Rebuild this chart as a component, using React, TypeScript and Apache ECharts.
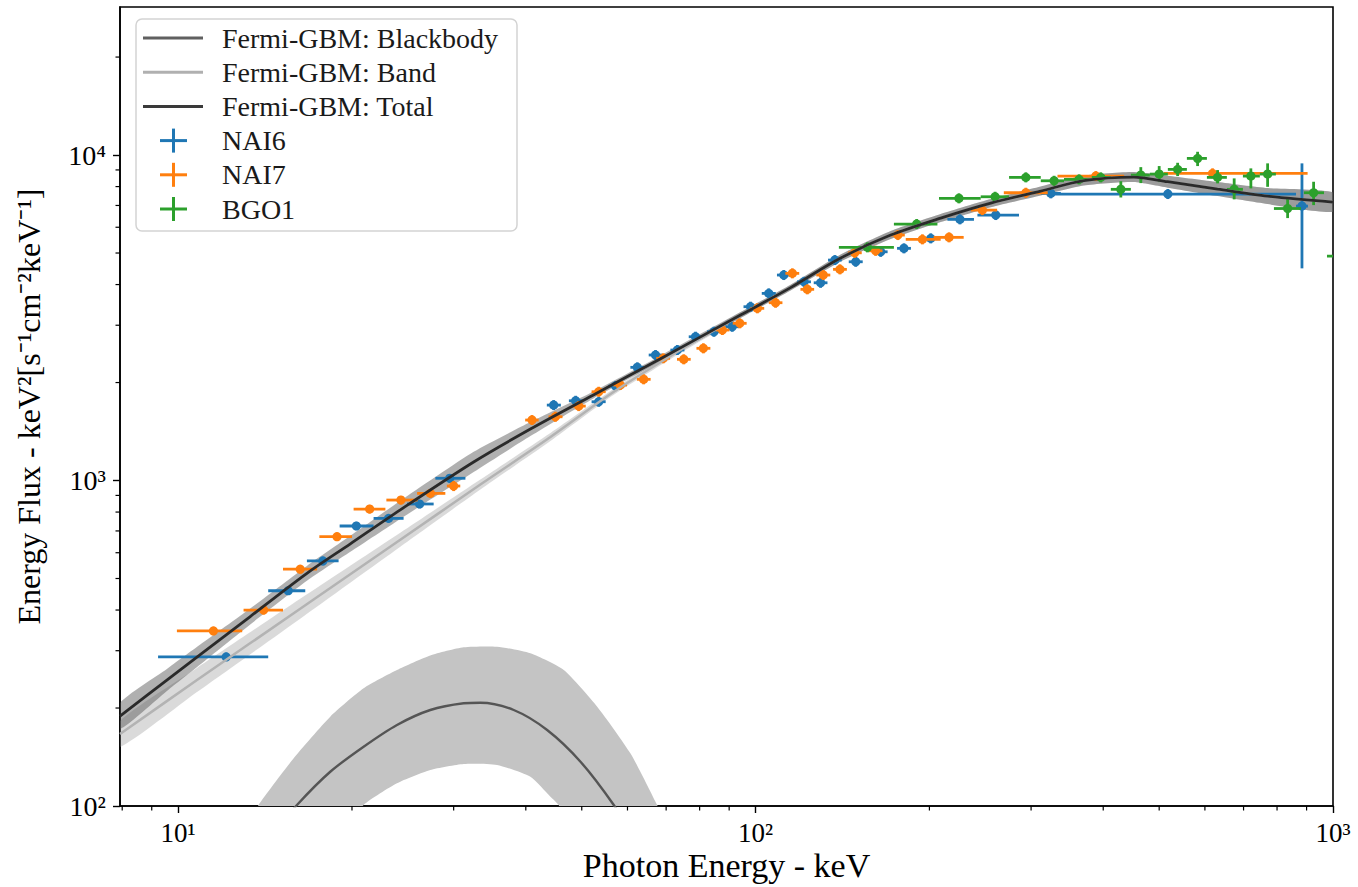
import React, { useEffect, useRef } from "react";
import * as echarts from "echarts";

const FONT = "Liberation Serif";

const X_MIN = 7.93;
const X_MAX = 1000;
const Y_MIN = 100;
const Y_MAX = 28500;

const xMajorTicks = [10, 100, 1000];
const xTickLabels = ["10\u00b9", "10\u00b2", "10\u00b3"];
const yMajorTicks = [100, 1000, 10000];
const yTickLabels = ["10\u00b2", "10\u00b3", "10\u2074"];
const xMinorTicks = [8, 9, 20, 30, 40, 50, 60, 70, 80, 90, 200, 300, 400, 500, 600, 700, 800, 900];
const yMinorTicks = [200, 300, 400, 500, 600, 700, 800, 900, 2000, 3000, 4000, 5000, 6000, 7000, 8000, 9000, 20000];

// Fermi-GBM: Total
const totalCurve = [[7.93,189.0],[9.56,243.8],[10.92,291.9],[13.33,382.1],[16.71,518.7],[19.87,639.0],[24.25,812.6],[32.49,1140],[40.74,1439],[52.38,1832],[68.45,2368],[94.19,3224],[115.0,3915],[140.4,4826],[171.4,5677],[209.2,6402],[255.5,7118],[311.8,7752],[370.2,8347],[451.9,8557],[517.0,8280],[631.1,7862],[770.5,7480],[1000,7170]];
const totalUpper = [[7.93,207.1],[9.56,263.5],[10.92,313.2],[13.33,404.3],[16.71,546.7],[19.87,676.1],[24.25,866.2],[32.49,1225],[40.74,1512],[52.38,1878],[68.45,2418],[94.19,3292],[115.0,3997],[140.4,4947],[171.4,5842],[209.2,6588],[255.5,7324],[311.8,8000],[370.2,8647],[451.9,8865],[517.0,8635],[631.1,8263],[770.5,7914],[1000,7672]];
const totalLower = [[7.93,172.4],[9.56,225.5],[10.92,272.0],[13.33,361.2],[16.71,492.1],[19.87,604.0],[24.25,762.3],[32.49,1062],[40.74,1369],[52.38,1787],[68.45,2319],[94.19,3158],[115.0,3834],[140.4,4708],[171.4,5517],[209.2,6222],[255.5,6917],[311.8,7512],[370.2,8057],[451.9,8260],[517.0,7938],[631.1,7480],[770.5,7070],[1000,6701]];

// Fermi-GBM: Band
const bandCurve = [[7.93,166.4],[10.78,243.8],[16.27,403.7],[24.25,657.8],[33.37,971.9],[44.13,1360],[56.74,1870],[74.13,2517],[94.19,3224],[115.0,3915],[140.4,4826],[171.4,5677],[209.2,6402],[255.5,7118],[311.8,7752],[370.2,8347],[451.9,8557],[517.0,8280],[631.1,7862],[770.5,7480],[1000,7170]];
const bandUpper = [[7.93,182.4],[10.78,265.5],[16.27,433.2],[24.25,691.3],[33.37,1007],[44.13,1399],[56.74,1909],[74.13,2570],[94.19,3292],[115.0,3997],[140.4,4947],[171.4,5842],[209.2,6588],[255.5,7324],[311.8,8000],[370.2,8647],[451.9,8865],[517.0,8635],[631.1,8263],[770.5,7914],[1000,7672]];
const bandLower = [[7.93,151.8],[10.78,223.9],[16.27,376.2],[24.25,625.9],[33.37,938.1],[44.13,1322],[56.74,1831],[74.13,2465],[94.19,3158],[115.0,3834],[140.4,4708],[171.4,5517],[209.2,6222],[255.5,6917],[311.8,7512],[370.2,8057],[451.9,8260],[517.0,7938],[631.1,7480],[770.5,7070],[1000,6701]];

// Fermi-GBM: Blackbody
const bbCurve = [[15.03,86.8],[16.06,100.7],[18.34,127.4],[20.95,152.1],[23.93,177.4],[27.33,197.2],[31.22,206.8],[33.37,207.7],[38.12,197.2],[43.55,171.2],[49.75,136.8],[56.81,100.7],[59.5,86.9]];
const bbUpper = [[13.06,84.4],[13.78,100.7],[15.85,140.1],[18.34,188.1],[20.95,229.9],[23.93,261.6],[27.33,290.0],[31.22,307.3],[35.66,308.6],[40.74,294.5],[46.54,261.6],[53.18,201.9],[60.7,145.2],[67.53,100.7],[70.7,84.4]];
const bbLower = [[19.47,84.4],[20.95,100.7],[23.93,117.4],[27.33,129.0],[31.22,134.6],[35.66,133.7],[40.74,123.0],[44.13,106.8],[45.6,100.7],[46.85,90.6]];

// data points: [energy, energyLow, energyHigh, flux, fluxLow, fluxHigh]
const nai6 = [
  [12.11,9.23,14.32,287,279,296],[15.51,14.32,16.60,458.5,445,472],[17.81,16.71,18.96,566,549,583],
  [20.35,19.04,21.80,725,704,747],[23.14,21.80,24.57,765,743,788],[26.19,24.91,27.70,847,822,872],
  [29.53,27.89,31.44,1016,986,1046],[44.7,43.5,46.0,1705,1646,1766],[48.8,47.5,50.2,1758,1697,1821],
  [53.5,52.0,55.0,1746,1685,1809],[57.2,55.6,58.8,1951,1883,2021],[62.4,60.7,64.1,2227,2150,2307],
  [67.1,65.3,69.0,2430,2346,2517],[73.2,71.2,75.3,2517,2430,2608],[78.7,76.6,80.9,2765,2669,2865],
  [84.7,82.4,87.1,2865,2765,2968],[91.1,88.6,93.6,2968,2865,3075],[98.0,95.3,100.7,3420,3301,3543],
  [105.4,102.5,108.4,3758,3627,3893],[111.9,108.9,115.0,4279,4130,4433],[121.3,118.0,124.7,4079,3937,4226],
  [129.6,126.1,133.2,4051,3910,4197],[137.2,133.5,141.0,4757,4592,4928],[149.1,145.0,153.3,4700,4537,4869],
  [164.7,160.2,169.3,5044,4869,5226],[180.7,175.8,185.8,5168,4988,5354],[201.1,195.6,206.7,5546,5353,5746],
  [225.9,214.9,238.9,6344,6124,6572],[260.6,242.2,285.9,6541,6314,6776],[324.6,311.8,337.8,7626,7361,7901],
  [517.6,320.6,862.9,7589,7325,7862],[883.6,862.9,905.0,6968,4486,9428]
];
const nai7 = [
  [11.51,9.95,12.91,345,335,355],[14.06,12.98,15.19,400,388,412],[16.27,15.19,17.40,534,518,550],
  [18.84,17.56,20.0,672,652,692],[21.46,20.13,22.85,817,793,842],[24.31,22.94,25.98,871,845,897],
  [27.34,25.93,29.02,913,886,940],[30.0,29.2,30.8,962,928,997],[41.0,39.9,42.1,1534,1481,1589],
  [45.0,43.8,46.3,1570,1515,1627],[49.4,48.1,50.8,1693,1634,1754],[53.5,52.0,55.0,1874,1809,1941],
  [58.3,56.7,59.9,1965,1897,2036],[64.0,62.3,65.8,2046,1975,2120],[69.2,67.3,71.1,2374,2292,2459],
  [75.1,73.1,77.2,2357,2275,2442],[81.2,79.0,83.5,2548,2459,2640],[87.6,85.2,90.1,2900,2799,3004],
  [93.9,91.3,96.5,3041,2935,3150],[100.7,98.0,103.5,3381,3264,3503],[108.3,105.4,111.3,3518,3396,3645],
  [115.8,112.6,119.0,4330,4180,4486],[122.9,119.6,126.3,3867,3733,4006],[131.0,127.4,134.7,4279,4130,4433],
  [140.0,136.2,143.9,4454,4299,4614],[148.5,144.5,152.7,5008,4834,5188],[161.4,157.0,165.9,5080,4903,5263],
  [176.4,171.6,181.3,5677,5480,5881],[194.5,182.0,209.2,5507,5316,5705],[216.3,203.4,229.3,5586,5392,5787],
  [247.0,236.0,262.0,6773,6538,7017],[293.8,269.1,320.6,7659,7393,7935],[388.4,333.3,434.8,8617,8318,8927],
  [618.6,509.4,903.7,8783,8478,9099]
];
const bgo1 = [
  [156.2,139.4,173.6,5204,5024,5391],[190.1,173.6,206.5,6137,5924,6358],[225.0,207.8,245.4,7361,7105,7626],
  [259.9,245.4,274.8,7444,7186,7712],[293.8,274.8,311.8,8538,8242,8845],[328.8,311.8,342.1,8335,8046,8635],
  [363.3,342.1,382.2,8418,8126,8721],[396.1,382.2,412.3,8538,8242,8845],[429.1,412.3,446.6,7846,7407,8311],
  [464.7,446.6,481.7,8677,8200,9180],[500.0,481.7,517.6,8740,8260,9250],[538.2,517.6,558.4,9035,8617,9467],
  [582.8,558.4,604.8,9765,9250,10233],[631.1,604.8,654.9,8538,8185,8992],[674.3,654.9,698.2,7846,7308,8478],
  [720.7,698.2,747.0,8617,7899,9100],[770.5,747.0,796.3,8740,7987,9428],[834.5,790.1,880.0,6850,6402,7375],
  [925.6,890.6,964.7,7659,7018,8278],[1075,976.3,1180,4893,4600,5200]
];

const legendItems = [
  { label: "Fermi-GBM: Blackbody", kind: "line", color: "#606060" },
  { label: "Fermi-GBM: Band", kind: "line", color: "#b0b0b0" },
  { label: "Fermi-GBM: Total", kind: "line", color: "#3a3a3a" },
  { label: "NAI6", kind: "cross", color: "#1f77b4" },
  { label: "NAI7", kind: "cross", color: "#ff7f0e" },
  { label: "BGO1", kind: "cross", color: "#2ca02c" },
];

function labelFor(v: number, ticks: number[], labels: string[]) {
  for (let i = 0; i < ticks.length; i++) {
    if (Math.abs(Math.log10(v) - Math.log10(ticks[i])) < 1e-6) return labels[i];
  }
  return "";
}

function bandSeries(upper: number[][], lower: number[][], color: string) {
  return {
    type: "custom",
    silent: true,
    clip: true,
    data: [[upper[0][0], upper[0][1]]],
    encode: { x: 0, y: 1 },
    renderItem: (params: any, api: any) => {
      const pts = upper.map((p) => api.coord(p)).concat(lower.slice().reverse().map((p) => api.coord(p)));
      return { type: "polygon", shape: { points: pts, smooth: 0.2 }, style: { fill: color } };
    },
  };
}

function lineSeries(data: number[][], color: string, width: number) {
  return {
    type: "line",
    data,
    showSymbol: false,
    smooth: 0.3,
    clip: true,
    silent: true,
    lineStyle: { color, width },
  };
}

function pointSeries(name: string, data: number[][], color: string) {
  return {
    type: "custom",
    name,
    clip: true,
    silent: true,
    data: data.map((d) => [d[0], d[3], d[1], d[2], d[4], d[5]]),
    encode: { x: 0, y: 1 },
    renderItem: (params: any, api: any) => {
      const x = api.value(0), y = api.value(1);
      const c = api.coord([x, y]);
      const l = api.coord([api.value(2), y]);
      const r = api.coord([api.value(3), y]);
      const b = api.coord([x, api.value(4)]);
      const t = api.coord([x, api.value(5)]);
      return {
        type: "group",
        children: [
          { type: "line", shape: { x1: l[0], y1: c[1], x2: r[0], y2: c[1] }, style: { stroke: color, lineWidth: 2.8 } },
          { type: "line", shape: { x1: c[0], y1: b[1], x2: c[0], y2: t[1] }, style: { stroke: color, lineWidth: 2.8 } },
          { type: "circle", shape: { cx: c[0], cy: c[1], r: 4.6 }, style: { fill: color } },
        ],
      };
    },
  };
}

function minorTickSeries(values: number[], dir: "x" | "y") {
  return {
    type: "custom",
    silent: true,
    clip: false,
    z: 10,
    data: values.map((v) => (dir === "x" ? [v, Y_MIN] : [X_MIN, v])),
    encode: { x: 0, y: 1 },
    renderItem: (params: any, api: any) => {
      const p = api.coord([api.value(0), api.value(1)]);
      const shape = dir === "x"
        ? { x1: p[0], y1: p[1], x2: p[0], y2: p[1] + 4.5 }
        : { x1: p[0], y1: p[1], x2: p[0] - 4.5, y2: p[1] };
      return { type: "line", shape, style: { stroke: "#000", lineWidth: 1.2 } };
    },
  };
}

export default function App() {
  const ref = useRef<HTMLDivElement>(null);
  useEffect(() => {
    if (!ref.current) return;
    const chart = echarts.init(ref.current, undefined, { renderer: "svg" });
    const rowY = (i: number) => 38 + i * 34.2;
    const legendGraphics: any[] = [
      {
        type: "rect",
        shape: { x: 136, y: 19, width: 381, height: 212, r: 6 },
        style: { fill: "rgba(255,255,255,0.85)", stroke: "#d3d3d3", lineWidth: 1.5 },
        z: 100,
      },
    ];
    legendItems.forEach((it, i) => {
      const y = rowY(i);
      if (it.kind === "line") {
        legendGraphics.push({ type: "line", shape: { x1: 143, y1: y, x2: 203, y2: y }, style: { stroke: it.color, lineWidth: 3 }, z: 101 });
      } else {
        legendGraphics.push({ type: "line", shape: { x1: 160, y1: y, x2: 187, y2: y }, style: { stroke: it.color, lineWidth: 3 }, z: 101 });
        legendGraphics.push({ type: "line", shape: { x1: 173.5, y1: y - 12, x2: 173.5, y2: y + 12 }, style: { stroke: it.color, lineWidth: 3 }, z: 101 });
      }
      legendGraphics.push({
        type: "text",
        x: 222,
        y,
        style: { text: it.label, fontFamily: FONT, fontSize: 28, fill: "#1a1a1a", verticalAlign: "middle", align: "left" },
        z: 101,
      });
    });

    const option: any = {
      animation: false,
      textStyle: { fontFamily: FONT },
      grid: {
        left: 120, top: 7, width: 1213, height: 799,
        containLabel: false, outerBoundsMode: "none",
        show: true, borderColor: "#000", borderWidth: 1.6, backgroundColor: "transparent",
      },
      xAxis: {
        type: "log",
        logBase: 10,
        min: X_MIN,
        max: X_MAX,
        name: "Photon Energy - keV",
        nameLocation: "middle",
        nameGap: 42,
        nameMoveOverlap: false,
        nameTextStyle: { fontFamily: FONT, fontSize: 34, color: "#000" },
        axisLine: { show: true, lineStyle: { color: "#000", width: 1.6 } },
        axisTick: { show: true, inside: false, length: 7, lineStyle: { color: "#000", width: 1.4 }, customValues: xMajorTicks },
        axisLabel: { show: true, customValues: xMajorTicks, fontFamily: FONT, fontSize: 27, color: "#000", margin: 13, formatter: (v: number) => labelFor(v, xMajorTicks, xTickLabels) },
        splitLine: { show: false },
        minorTick: { show: false },
      },
      yAxis: {
        type: "log",
        logBase: 10,
        min: Y_MIN,
        max: Y_MAX,
        name: "Energy Flux - keV\u00b2[s\u207b\u00b9cm\u207b\u00b2keV\u207b\u00b9]",
        nameLocation: "middle",
        nameRotate: 90,
        nameGap: 75,
        nameTextStyle: { fontFamily: FONT, fontSize: 32, color: "#000" },
        axisLine: { show: true, lineStyle: { color: "#000", width: 1.6 } },
        axisTick: { show: true, inside: false, length: 7, lineStyle: { color: "#000", width: 1.4 }, customValues: yMajorTicks },
        axisLabel: { show: true, customValues: yMajorTicks, fontFamily: FONT, fontSize: 28, color: "#000", margin: 14, formatter: (v: number) => labelFor(v, yMajorTicks, yTickLabels) },
        splitLine: { show: false },
        minorTick: { show: false },
      },
      series: [
        bandSeries(bbUpper, bbLower, "#c4c4c4"),
        lineSeries(bbCurve, "#555555", 2.4),
        bandSeries(bandUpper, bandLower, "rgba(150,150,150,0.35)"),
        lineSeries(bandCurve, "#b3b3b3", 2.5),
        bandSeries(totalUpper, totalLower, "rgba(80,80,80,0.45)"),
        lineSeries(totalCurve, "#2a2a2a", 2.8),
        pointSeries("NAI6", nai6, "#1f77b4"),
        pointSeries("NAI7", nai7, "#ff7f0e"),
        pointSeries("BGO1", bgo1, "#2ca02c"),
        minorTickSeries(xMinorTicks, "x"),
        minorTickSeries(yMinorTicks, "y"),
      ],
      graphic: legendGraphics,
    };
    chart.setOption(option);
    return () => chart.dispose();
  }, []);
  return <div ref={ref} style={{ position: "absolute", left: 0, top: 0, width: 1358, height: 887 }} />;
}
